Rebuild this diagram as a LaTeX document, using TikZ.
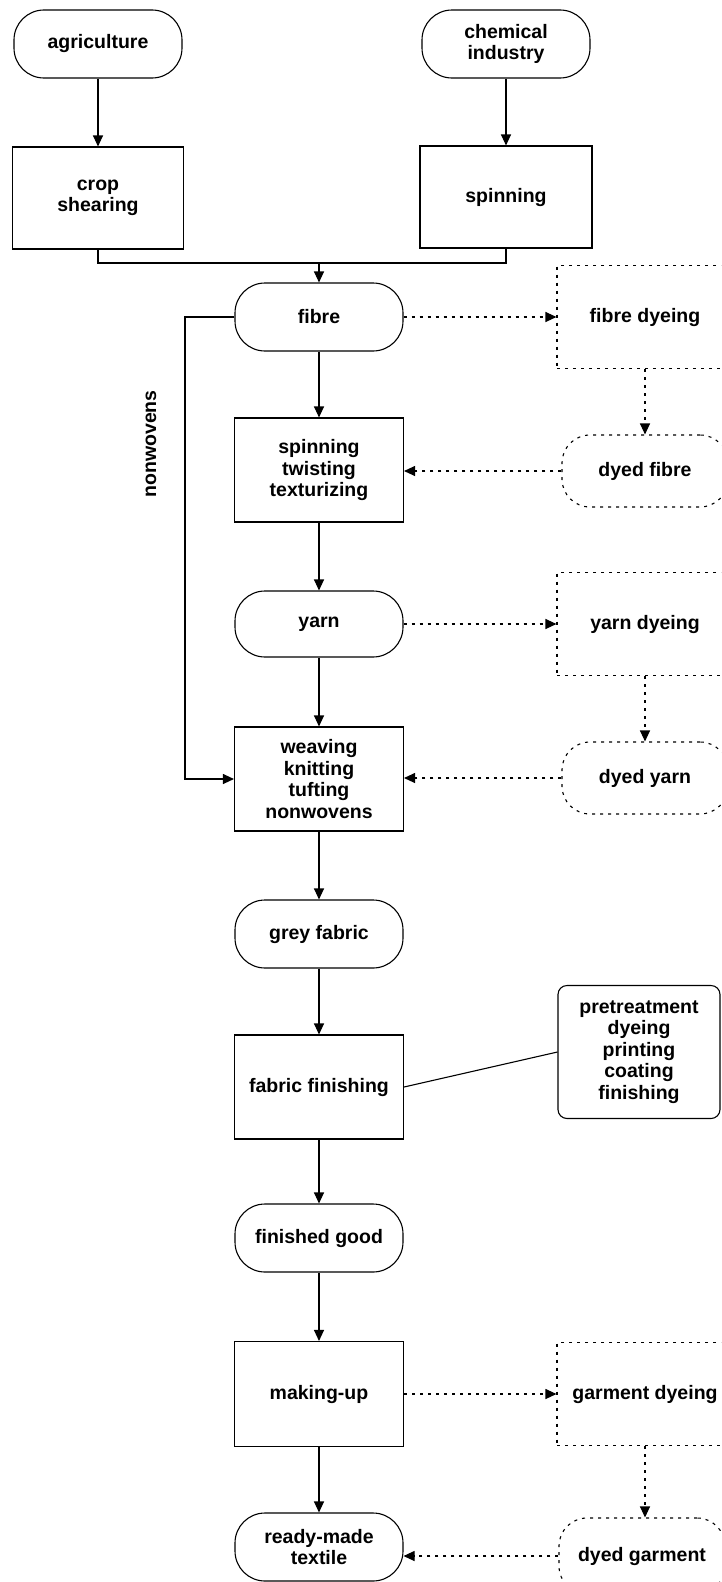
\documentclass[tikz,border=0pt]{standalone}
\usepackage{fontspec}
\setmainfont{Liberation Sans}
\usetikzlibrary{arrows.meta}
\begin{document}
\begin{tikzpicture}[x=1pt,y=-1pt,
  every node/.style={font=\bfseries\fontsize{19.5}{21.5}\selectfont, align=center, inner sep=0pt},
  term/.style={draw, line width=1.1pt, rounded corners=30pt, minimum width=168pt, minimum height=68pt},
  proc/.style={draw, line width=1.1pt, rectangle, minimum width=169pt, minimum height=104pt},
  dyebox/.style={draw, line width=1.1pt, dash pattern=on 3pt off 5pt, rectangle, minimum width=176pt, minimum height=103pt},
  dyedterm/.style={draw, line width=1.1pt, dash pattern=on 3pt off 5pt, rounded corners=28pt, minimum width=166pt, minimum height=72pt},
  note/.style={draw, line width=1.1pt, rounded corners=9pt, minimum width=162pt, minimum height=133pt},
  conn/.style={line width=1.1pt, -{Triangle[length=11pt,width=10pt]}},
  dconn/.style={conn, dash pattern=on 3pt off 5pt},
  plain/.style={line width=1.1pt}]
\useasboundingbox (0,0) rectangle (721,1582);
\clip (0,0) rectangle (721,1582);
% left/top column
\node[term] (agri) at (98,44) {agriculture};
\node[term] (chem) at (506,44) {chemical\\industry};
\node[proc, minimum width=171pt, minimum height=102pt] (crop) at (98,198) {crop\\shearing};
\node[proc, minimum width=172pt, minimum height=102pt] (spin1) at (506,197) {spinning};
% main column
\node[term] (fibre) at (319,317) {fibre};
\node[proc] (sp2) at (319,470) {spinning\\twisting\\texturizing};
\node[term, minimum height=66pt] (yarn) at (319,624) {yarn};
\node[proc] (weave) at (319,779) {weaving\\knitting\\tufting\\nonwovens};
\node[term] (grey) at (319,934) {grey fabric};
\node[proc] (finish) at (319,1087) {fabric finishing};
\node[term] (fgood) at (319,1238) {finished good};
\node[proc, minimum height=105pt] (making) at (319,1394) {making-up};
\node[term] (ready) at (319,1547) {ready-made\\textile};
% right column
\node[dyebox] (fdye) at (645,317) {fibre dyeing};
\node[dyedterm] (dfibre) at (645,471) {dyed fibre};
\node[dyebox] (ydye) at (645,624) {yarn dyeing};
\node[dyedterm] (dyarn) at (645,778) {dyed yarn};
\node[note] (pre) at (639,1052) {pretreatment\\dyeing\\printing\\coating\\finishing};
\node[dyebox] (gdye) at (645,1394) {garment dyeing};
\node[dyedterm, minimum height=76pt] (dgar) at (642,1556) {dyed garment};
% nonwovens label
\node[rotate=90] (nwlabel) at (151,444) {nonwovens};
% connectors
\draw[conn] (agri) -- (crop);
\draw[conn] (chem) -- (spin1);
\coordinate (m) at (319,263);
\draw[plain] (crop.south) |- (m) -| (spin1.south);
\draw[conn] (m) -- (fibre.north);
\draw[conn] (fibre) -- (sp2);
\draw[conn] (sp2) -- (yarn);
\draw[conn] (yarn) -- (weave);
\draw[conn] (weave) -- (grey);
\draw[conn] (grey) -- (finish);
\draw[conn] (finish) -- (fgood);
\draw[conn] (fgood) -- (making);
\draw[conn] (making) -- (ready);
\coordinate (nwc) at (185,317);
\draw[conn] (fibre.west) -- (nwc) |- (weave.west);
\draw[plain] (finish.east) -- (pre.west);
\draw[dconn] (fibre.east) -- (fdye.west);
\draw[dconn] (fdye.south) -- (dfibre.north);
\draw[dconn] (dfibre.west) -- (sp2.east |- dfibre.west);
\draw[dconn] (yarn.east) -- (ydye.west);
\draw[dconn] (ydye.south) -- (dyarn.north);
\draw[dconn] (dyarn.west) -- (weave.east |- dyarn.west);
\draw[dconn] (making.east) -- (gdye.west);
\draw[dconn] (gdye.south) -- (dgar.north -| gdye.south);
\draw[dconn] (dgar.west) -- (ready.east |- dgar.west);
\end{tikzpicture}
\end{document}
